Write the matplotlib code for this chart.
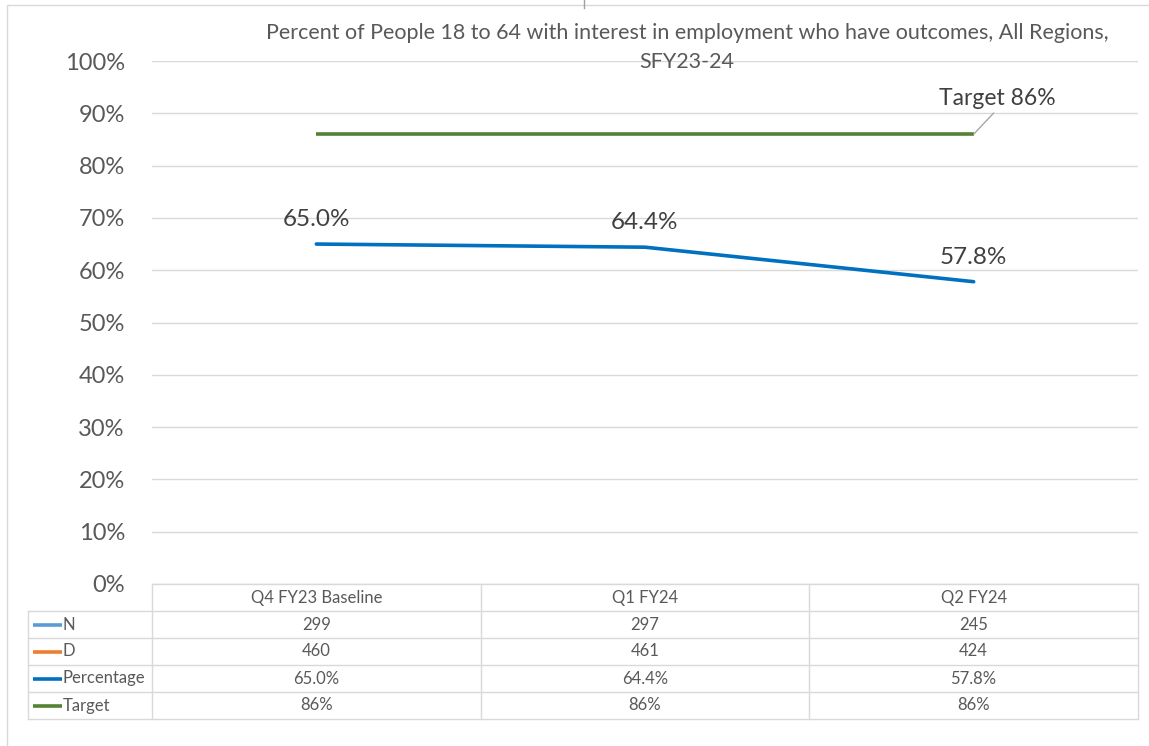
import matplotlib.pyplot as plt
from matplotlib.patches import Rectangle
from matplotlib.lines import Line2D
import matplotlib.transforms as mtransforms

plt.rcParams['font.family'] = ['Lato', 'DejaVu Sans']

# data
quarters = ['Q4 FY23 Baseline', 'Q1 FY24', 'Q2 FY24']
n_vals = [299, 297, 245]
d_vals = [460, 461, 424]
pct_vals = [0.650, 0.644, 0.578]
target_vals = [0.86, 0.86, 0.86]

row_names = ['N', 'D', 'Percentage', 'Target']
row_colors = ['#5B9BD5', '#ED7D31', '#0070C0', '#548235']
row_text = [
    [str(v) for v in n_vals],
    [str(v) for v in d_vals],
    ['%.1f%%' % (v * 100) for v in pct_vals],
    ['%d%%' % round(v * 100) for v in target_vals],
]

W, H = 1149, 746
fig = plt.figure(figsize=(W / 100, H / 100), dpi=100)
txt = '#595959'
grid = '#D9D9D9'

# outer chart border
fig.patches.append(Rectangle((7 / W, -0.1), 1.2, 1 - 5 / H + 0.1,
                             transform=fig.transFigure, fill=False,
                             edgecolor='#D9D9D9', lw=1))
fig.lines.append(Line2D([584 / W, 584 / W], [1, 1 - 8 / H],
                        transform=fig.transFigure, color='#A0A0A0', lw=1))

ax = fig.add_axes([152 / W, (H - 584) / H, (1138 - 152) / W, (584 - 61) / H])
x = list(range(len(quarters)))
ax.set_xlim(-0.5, len(quarters) - 0.5)
ax.set_ylim(0, 1)
ax.set_yticks([i / 10 for i in range(11)])
ax.set_yticklabels(['%d%%' % (i * 10) for i in range(11)], fontsize=17, color=txt)
ax.tick_params(axis='y', length=0, pad=19.5)
ax.set_xticks([])
for s in ax.spines.values():
    s.set_visible(False)
ax.grid(axis='y', color=grid, lw=1)
ax.set_axisbelow(True)

ax.plot(x, target_vals, color='#548235', lw=2.6, solid_capstyle='butt')
ax.plot(x, pct_vals, color='#0070C0', lw=2.6, solid_capstyle='round')

for xi, v in zip(x, pct_vals):
    ax.annotate('%.1f%%' % (v * 100), (xi, v), xytext=(0, 10), textcoords='offset points',
                ha='center', va='bottom', fontsize=17.5, color='#404040')
ax.annotate('Target %d%%' % round(target_vals[-1] * 100), (x[-1], target_vals[-1]),
            xytext=(17, 18), textcoords='offset points', ha='center', va='bottom',
            fontsize=16.5, color='#404040',
            arrowprops=dict(arrowstyle='-', color='#A6A6A6', lw=1, shrinkA=1, shrinkB=0,
                            relpos=(0.5, 0.0)))

fig.text(687 / W, 1 - 33 / H, 'Percent of People 18 to 64 with interest in employment who have outcomes, All Regions,',
         ha='center', va='center', fontsize=15.5, color=txt)
fig.text(687 / W, 1 - 62 / H, 'SFY23-24', ha='center', va='center', fontsize=15.5, color=txt)

# data table below the axes
tr = mtransforms.blended_transform_factory(ax.transData, ax.transAxes)
ah = 584 - 61
px_per_cat = (1138 - 152) / len(quarters)
row_h = 27 / ah
label_left = -0.5 - 124 / px_per_cat
right = len(quarters) - 0.5
n_rows = len(row_names)
y_top = 0
y_bot = -(n_rows + 1) * row_h
lk = dict(transform=tr, color=grid, lw=1, clip_on=False)
ax.plot([-0.5, right], [y_top, y_top], **lk)
for r in range(1, n_rows + 2):
    yy = -r * row_h
    ax.plot([label_left, right], [yy, yy], **lk)
ax.plot([label_left, label_left], [-row_h, y_bot], **lk)
for c in range(len(quarters) + 1):
    xc = c - 0.5
    ax.plot([xc, xc], [y_top, y_bot], **lk)

fs_tab = 12
for xi, q in zip(x, quarters):
    ax.text(xi, -0.5 * row_h, q, transform=tr, ha='center', va='center', fontsize=fs_tab, color=txt)
key_len = 29 / px_per_cat
for r, (name, col, vals) in enumerate(zip(row_names, row_colors, row_text)):
    yc = -(r + 1.5) * row_h
    x0 = label_left + 5 / px_per_cat
    ax.plot([x0, x0 + key_len], [yc, yc], transform=tr, color=col, lw=2.6,
            solid_capstyle='butt', clip_on=False)
    ax.text(x0 + key_len + 1 / px_per_cat, yc, name, transform=tr, ha='left', va='center',
            fontsize=fs_tab, color=txt)
    for xi, s in zip(x, vals):
        ax.text(xi, yc, s, transform=tr, ha='center', va='center', fontsize=fs_tab, color=txt)

fig.savefig('out.png', dpi=100)
